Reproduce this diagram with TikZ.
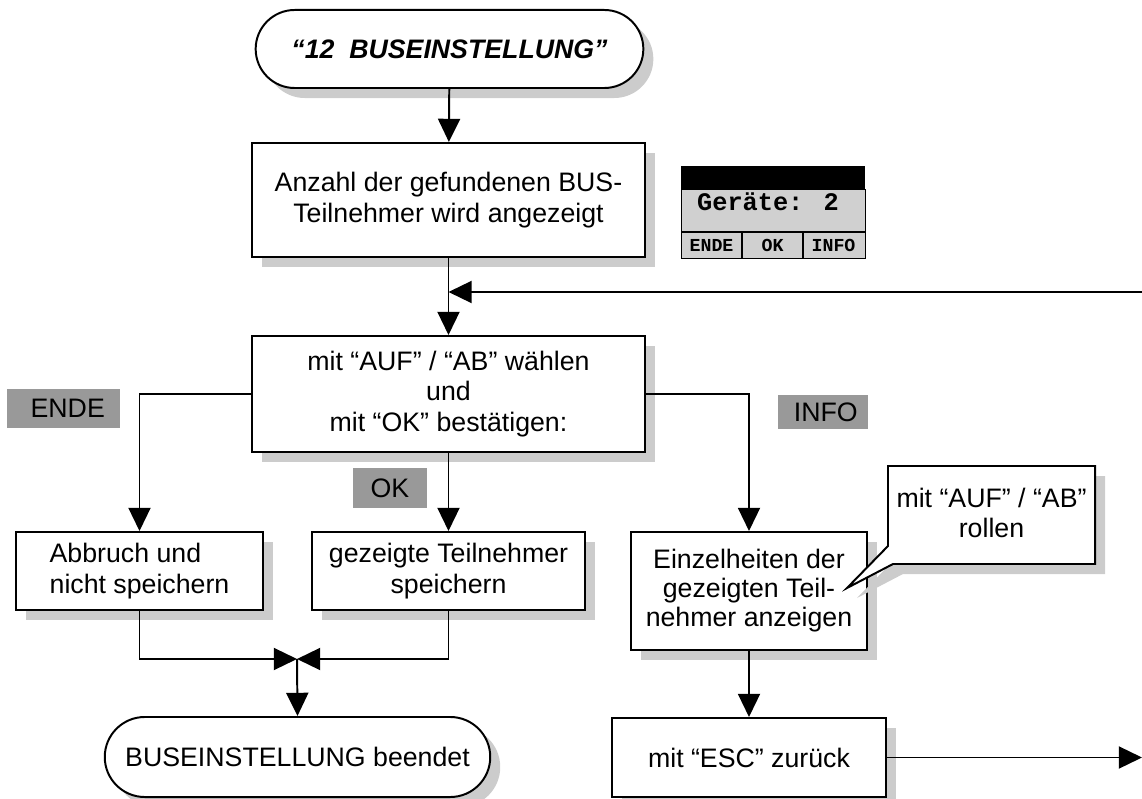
\documentclass[tikz,border=0pt]{standalone}
\usepackage{fontspec}
\setmainfont{Liberation Sans}
\newfontfamily\lcdfont{Liberation Mono}
\usetikzlibrary{arrows.meta, shadows, shapes.misc}

\definecolor{keygray}{HTML}{999999}
\definecolor{lcdgray}{HTML}{D0D0D0}

\tikzset{
  every node/.style={font=\fontsize{19}{21.5}\selectfont},
  shadowed/.style={
    drop shadow={shadow xshift=0.25cm, shadow yshift=-0.25cm,
      fill=black!20, opacity=1}
  },
  stepbox/.style={
    draw=black, line width=1.4pt, fill=white, shadowed,
    align=center, inner sep=2pt
  },
  terminal/.style={stepbox, rounded rectangle},
  callbox/.style={draw=black, line width=1.4pt, fill=white, shadowed},
  keylabel/.style={fill=keygray, inner sep=0pt},
  lcdkey/.style={font=\lcdfont\bfseries\fontsize{13}{13}\selectfont, inner sep=0pt},
  arr/.style={-{Triangle[length=0.58cm,width=0.55cm]}, line width=1.4pt},
}

\begin{document}
\begin{tikzpicture}[x=0.025cm, y=-0.025cm]
    \useasboundingbox (0,0) rectangle (1142,799);

    % Main objects
    \node[terminal, minimum width=9.83cm, minimum height=1.95cm,
      font=\fontsize{19}{21.5}\selectfont\bfseries\itshape] (start) at (449.5,49)
      {“12~~BUSEINSTELLUNG”};

    \node[stepbox, minimum width=9.83cm, minimum height=2.85cm] (count) at (448.5,200)
      {Anzahl der gefundenen BUS-\\Teilnehmer wird angezeigt};

    \node[stepbox, minimum width=9.83cm, minimum height=2.9cm] (select) at (448.5,394)
      {mit “AUF” / “AB” wählen\\und\\mit “OK” bestätigen:};

    \node[stepbox, align=left, minimum width=6.175cm, minimum height=1.95cm] (abort) at (139.5,571)
      {Abbruch und\\nicht speichern};

    \node[stepbox, minimum width=6.825cm, minimum height=1.95cm] (save) at (448.5,571)
      {gezeigte Teilnehmer\\speichern};

    \node[stepbox, minimum width=5.9cm, minimum height=2.95cm,
      font=\fontsize{19}{20.6}\selectfont] (detail) at (749,591)
      {Einzelheiten der\\gezeigten Teil-\\nehmer anzeigen};

    \node[stepbox, minimum width=6.85cm, minimum height=1.975cm] (esc) at (749,757.5)
      {mit “ESC” zurück};

    \node[terminal, minimum width=9.775cm, minimum height=2cm] (finish) at (297.5,757)
      {BUSEINSTELLUNG beendet};

    % Key labels
    \node[keylabel, minimum width=2.825cm, minimum height=0.975cm] (endekey) at (63.5,408.5) {\hspace{6pt}ENDE};
    \node[keylabel, minimum width=1.85cm, minimum height=1cm] (okkey) at (390,488) {OK};
    \node[keylabel, minimum width=2.25cm, minimum height=0.85cm] (infokey) at (823,412) {\hspace{4pt}INFO};

    % Callout
    \draw[callbox] (888,466) -- (1095,466) -- (1095,564) -- (893,564)
      -- (847,588) -- (888,546) -- cycle;
    \node[align=center] (scroll) at (991.5,513) {mit “AUF” / “AB”\\rollen};

    % Display
    \fill[black] (681,166) rectangle (865,189);
    \filldraw[fill=lcdgray, draw=black, line width=0.6pt] (681,189) rectangle (865,258);
    \draw[line width=0.8pt] (681,232) -- (865,232) (742,232) -- (742,258) (803,232) -- (803,258);
    \node[font=\lcdfont\bfseries\fontsize{18}{18}\selectfont] (devices) at (768,202) {Geräte: 2};
    \node[lcdkey] (lcdende) at (711.5,245) {ENDE};
    \node[lcdkey] (lcdok) at (772.5,245) {OK};
    \node[lcdkey] (lcdinfo) at (833.5,245) {INFO};

    % Connectors
    \coordinate (back) at (1142,292);
    \coordinate (merge) at (297,659);
    \coordinate (out) at (1142,757.5);

    \draw[arr] (start) -- (count);
    \draw[arr] (count) -- (select);
    \draw[arr] (back) -- (count.south |- back);
    \draw[arr] (select.west) -| (abort.north);
    \draw[arr] (select.south) -- (save.north);
    \draw[arr] (select.east) -| (detail.north);
    \draw[arr] (abort.south) |- (merge);
    \draw[arr] (save.south) |- (merge);
    \draw[arr] (merge) -- (finish.north);
    \draw[arr] (detail) -- (esc);
    \draw[arr] (esc.east) -- (out);

\end{tikzpicture}
\end{document}
